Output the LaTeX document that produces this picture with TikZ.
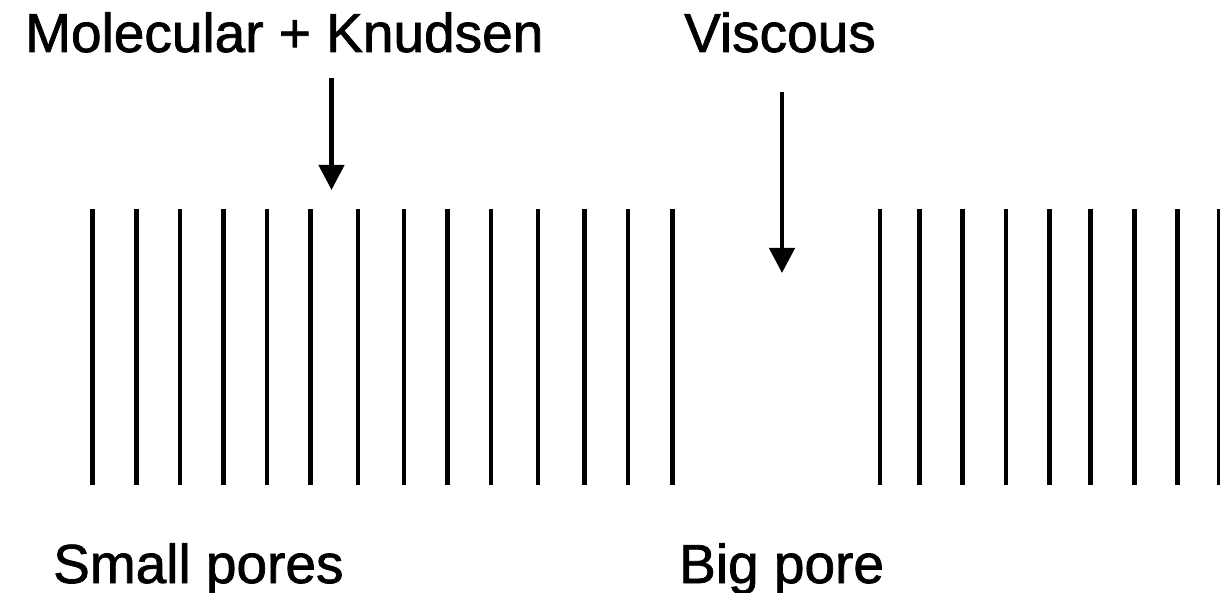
\documentclass[tikz,border=0pt]{standalone}
\usepackage{fontspec}
\setmainfont{Liberation Sans}[BoldFont={Liberation Sans},BoldFeatures={FakeBold=1.3}]
\usetikzlibrary{arrows.meta}
\begin{document}
\begin{tikzpicture}[x=1pt,y=-1pt,
  label/.style={anchor=base west,inner sep=0pt,font=\fontsize{55}{60}\selectfont\bfseries},
  wall/.style={line width=4.5pt},
  flow/.style={line width=4.5pt,-{Triangle[length=25pt,width=25pt]}}]
\useasboundingbox (0,0) rectangle (1220,593);
\node[label] (mk) at (25,52) {Molecular + Knudsen};
\node[label] (visc) at (684,52) {Viscous};
\node[label] (small) at (53,583) {Small pores};
\node[label] (big) at (679,583) {Big pore};
\coordinate (a1s) at (331.5,78);
\coordinate (a1e) at (331.5,190);
\coordinate (a2s) at (782,92);
\coordinate (a2e) at (782,273);
\draw[flow] (a1s) -- (a1e);
\draw[flow] (a2s) -- (a2e);
\foreach \x in {92.4,136.3,179.8,223.7,267.2,310.7,357.9,404.2,447.7,490.8,538,584.7,628.2,672.5,880,919.3,962.7,1006,1049.3,1090.7,1134.3,1177.7,1219.5}
  \draw[wall] (\x,209) -- (\x,485);
\end{tikzpicture}
\end{document}
